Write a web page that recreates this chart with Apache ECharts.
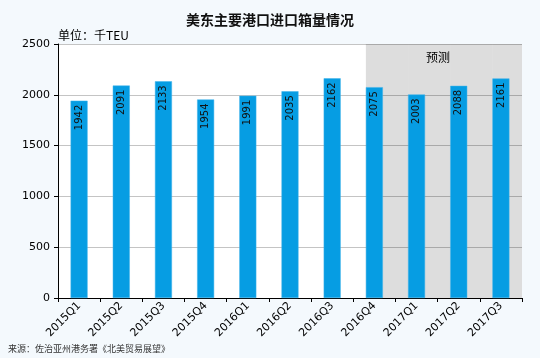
<!DOCTYPE html>
<html><head><meta charset="utf-8">
<script src="https://cdn.jsdelivr.net/npm/echarts@6/dist/echarts.min.js"></script>
<style>html,body{margin:0;padding:0;background:#f4f9fd;}#c{width:540px;height:358px;}</style>
</head><body><div id="c"></div>
<script>
const categories = ['2015Q1','2015Q2','2015Q3','2015Q4','2016Q1','2016Q2','2016Q3','2016Q4','2017Q1','2017Q2','2017Q3'];
const volumes = [1942, 2091, 2133, 1954, 1991, 2035, 2162, 2075, 2003, 2088, 2161];
const forecastFlags = [false,false,false,false,false,false,false,true,true,true,true];
const yTicks = {min: 0, max: 2500, interval: 500};

const chart = echarts.init(document.getElementById('c'), null, {renderer: 'canvas'});
const forecastBg = forecastFlags.map(f => f ? yTicks.max : '-');
const numFont = 'DejaVu Sans, Verdana, sans-serif';
const cjkFont = 'Noto Sans CJK SC, sans-serif';

chart.setOption({
  backgroundColor: '#f4f9fd',
  animation: false,
  title: {
    text: '美东主要港口进口箱量情况',
    left: 'center', top: 8,
    textStyle: {fontFamily: cjkFont, fontSize: 14, fontWeight: 'bold', color: '#111'}
  },
  grid: {left: 58, right: 18, top: 44, bottom: 60, show: true, backgroundColor: '#ffffff', borderWidth: 0},
  xAxis: {
    type: 'category', data: categories,
    axisLine: {lineStyle: {color: '#000', width: 1}},
    axisTick: {show: true, length: 4, lineStyle: {color: '#000'}},
    axisLabel: {rotate: 45, fontFamily: numFont, fontSize: 11, color: '#000', margin: 6, interval: 0}
  },
  yAxis: {
    type: 'value', min: yTicks.min, max: yTicks.max, interval: yTicks.interval,
    axisLine: {show: true, lineStyle: {color: '#000'}},
    axisTick: {show: true, length: 4, inside: false, lineStyle: {color: '#000'}},
    axisLabel: {fontFamily: numFont, fontSize: 11, color: '#000', margin: 8, formatter: v => String(v)},
    splitLine: {show: true, lineStyle: {color: '#c4c4c4', width: 1}}
  },
  graphic: [
    {type: 'text', left: 58, top: 29, style: {text: '单位：千TEU', font: '12px "Noto Sans CJK SC"', fill: '#000'}},
    {type: 'text', left: 426, top: 51, style: {text: '预测', font: '12px "Noto Sans CJK SC"', fill: '#000'}},
    {type: 'text', left: 8, top: 344, style: {text: '来源：佐治亚州港务署《北美贸易展望》', font: '9px "Noto Sans CJK SC"', fill: '#333'}}
  ],
  series: [
    {
      type: 'bar', data: forecastBg, barWidth: '100%', barGap: '-100%', silent: true, z: 1,
      itemStyle: {color: 'rgba(0,0,0,0.135)'}
    },
    {
      type: 'bar', data: volumes, barWidth: 17, z: 3,
      itemStyle: {color: '#069de3', borderColor: '#3fb3ea', borderWidth: 0.5},
      label: {
        show: true, position: 'insideTop', rotate: 90, align: 'right', verticalAlign: 'middle',
        distance: 4, fontFamily: numFont, fontSize: 10, color: '#111'
      }
    }
  ]
});
</script></body></html>
